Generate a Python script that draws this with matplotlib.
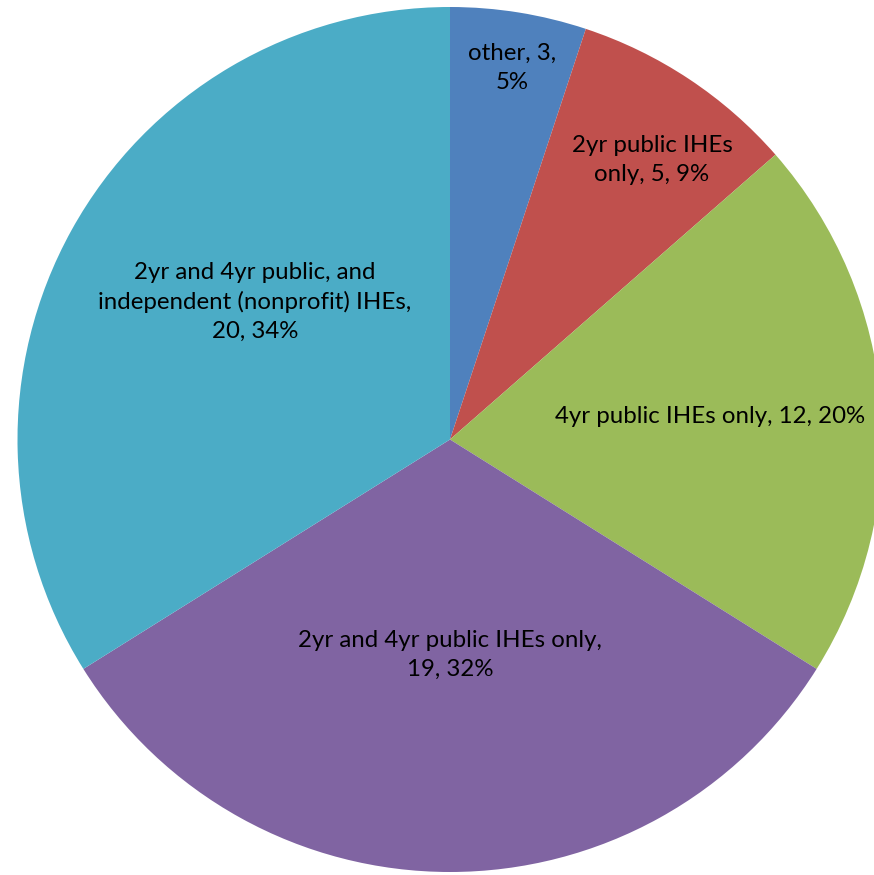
import matplotlib.pyplot as plt

# data
labels = ["other, 3,\n5%",
          "2yr public IHEs\nonly, 5, 9%",
          "4yr public IHEs only, 12, 20%",
          "2yr and 4yr public IHEs only,\n19, 32%",
          "2yr and 4yr public, and\nindependent (nonprofit) IHEs,\n20, 34%"]
counts = [3, 5, 12, 19, 20]
colors = ["#4F81BD", "#C0504D", "#9BBB59", "#8064A2", "#4BACC6"]

# label positions (pie radius = 1)
label_xy = [(0.143, 0.859), (0.467, 0.646), (0.601, 0.054),
            (0.0, -0.498), (-0.451, 0.318)]

plt.rcParams['font.family'] = ['Lato', 'DejaVu Sans']

fig = plt.figure(figsize=(8.74, 8.75), dpi=100)
ax = fig.add_axes([0, 0, 1, 1])

wedges, _ = ax.pie(counts, colors=colors, startangle=90, counterclock=False,
                   radius=1, wedgeprops=dict(linewidth=0))

for (x, y), txt in zip(label_xy, labels):
    ax.text(x, y, txt, ha="center", va="center", fontsize=17.3, color="black",
            linespacing=1.45)

ax.set_xlim(-450 / 432.5, 424 / 432.5)
ax.set_ylim((439.5 - 875) / 432.5, 439.5 / 432.5)
ax.set_aspect("equal")
ax.axis("off")

fig.savefig("out.png", dpi=100)
